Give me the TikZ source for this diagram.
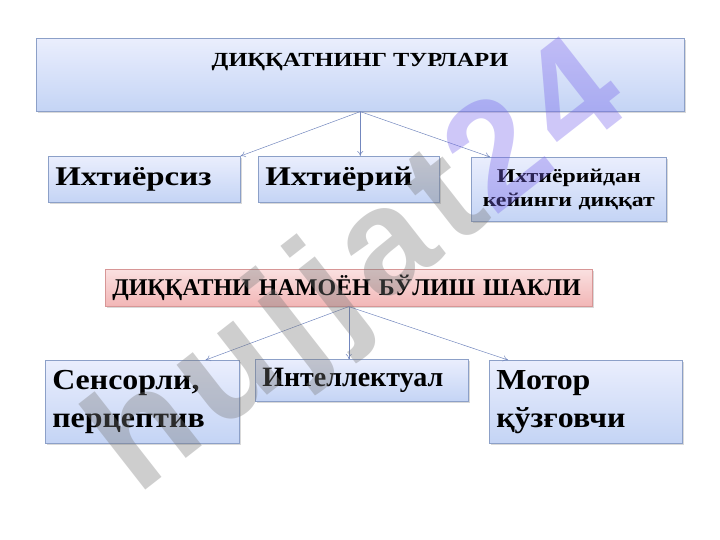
\documentclass[tikz,border=0pt]{standalone}
\usepackage{fontspec}
\setmainfont{Liberation Serif}
\newfontfamily\midfont[FakeStretch=1.1]{Liberation Serif}
\newfontfamily\widefont[FakeStretch=1.22]{Liberation Serif}
\newfontfamily\markfont[LetterSpace=7]{Liberation Sans}
\usetikzlibrary{shadows,arrows.meta}
\definecolor{boxline}{RGB}{140,160,200}
\definecolor{boxtop}{RGB}{234,238,253}
\definecolor{boxbot}{RGB}{196,212,245}
\definecolor{pinkline}{RGB}{215,150,150}
\definecolor{pinktop}{RGB}{250,224,224}
\definecolor{pinkbot}{RGB}{242,182,182}
\definecolor{linkcol}{RGB}{115,135,190}
\definecolor{markgray}{RGB}{120,120,120}
\definecolor{markviolet}{RGB}{120,100,235}
\tikzset{
  box/.style={draw=boxline, line width=0.6pt, top color=boxtop, bottom color=boxbot,
    anchor=north west, inner ysep=0pt, inner xsep=7pt, align=left,
    drop shadow={shadow xshift=1.5pt, shadow yshift=-1.5pt, opacity=0.3}},
  pinkbox/.style={box, draw=pinkline, top color=pinktop, bottom color=pinkbot},
  link/.style={draw=linkcol, line width=0.5pt, -{To[length=5pt,width=6pt]}},
}
\begin{document}
\begin{tikzpicture}[x=1pt,y=-1pt]
\useasboundingbox (0,0) rectangle (720,540);
\node[box, minimum width=648pt, minimum height=73pt] (types) at (36,38) {};
\node[font=\widefont\fontsize{20}{20}\selectfont\bfseries] (typestext) at (360,62) {ДИҚҚАТНИНГ ТУРЛАРИ};
\node[box, font=\widefont\fontsize{27}{27}\selectfont\bfseries, minimum width=192pt, minimum height=46pt,
  text width=178pt] (involun) at (48,156) {Ихтиёрсиз};
\node[box, font=\widefont\fontsize{27}{27}\selectfont\bfseries, minimum width=181pt, minimum height=46pt,
  text width=167pt] (volun) at (258,156) {Ихтиёрий};
\node[box, minimum width=195pt, minimum height=64pt, text width=181pt, align=center,
  font=\widefont\fontsize{19.5}{24}\selectfont\bfseries] (postvol) at (471,157) {Ихтиёрийдан\\кейинги диққат};
\node[pinkbox, font=\fontsize{24}{24}\selectfont\bfseries, minimum width=487pt, minimum height=37pt,
  text width=473pt] (forms) at (105,269) {ДИҚҚАТНИ НАМОЁН БЎЛИШ ШАКЛИ};
\node[box, minimum width=194pt, minimum height=83pt, text width=180pt,
  font=\midfont\fontsize{29}{38}\selectfont\bfseries] (sensor) at (45,360) {Сенсорли,\\перцептив};
\node[box, font=\fontsize{28}{28}\selectfont\bfseries, minimum width=213pt, minimum height=42pt,
  text width=199pt] (intel) at (255,359) {Интеллектуал};
\node[box, minimum width=193pt, minimum height=83pt, text width=179pt,
  font=\midfont\fontsize{29}{38}\selectfont\bfseries] (motor) at (489,360) {Мотор\\қўзғовчи};

\draw[link] (types.south) -- (involun.north east);
\draw[link] (types.south) -- (types.south |- volun.north);
\draw[link] (types.south) -- ([xshift=19pt]postvol.north west);
\draw[link] (forms.south) -- ([xshift=-34pt]sensor.north east);
\draw[link] (forms.south) -- (forms.south |- intel.north);
\draw[link] (forms.south) -- ([xshift=19pt]motor.north west);

\node[rotate=38, text opacity=0.36, font=\markfont\bfseries\fontsize{150}{150}\selectfont] (mark) at (362,272)
  {\textcolor{markgray}{hujjat}\textcolor{markviolet}{24}};
\end{tikzpicture}
\end{document}
